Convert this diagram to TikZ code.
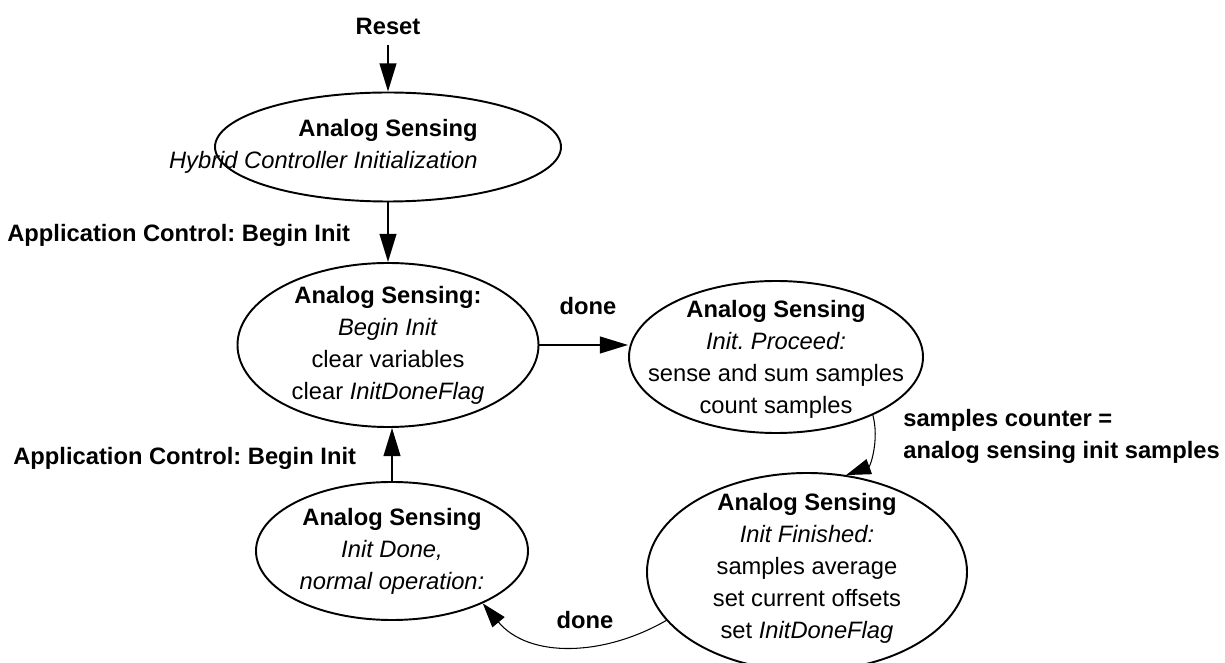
\documentclass[tikz,border=0pt]{standalone}
\usepackage{fontspec}
\setmainfont{Liberation Sans}
\usetikzlibrary{arrows.meta,shapes}
\frenchspacing
\newcommand{\dfont}{\fontsize{13.5}{18.2}\selectfont}
\tikzstyle{sstate}=[ellipse,draw=black,line width=1.1pt,inner sep=0pt]
\tikzstyle{stext}=[align=center,inner sep=0pt,font=\dfont]
\tikzstyle{tlabel}=[inner sep=0pt,font=\dfont\bfseries]
\tikzstyle{tgraph}=[-{Triangle[length=16pt,width=9.5pt]}, line width=1.1pt]
\tikzstyle{cgraph}=[-{Triangle[length=14pt,width=9pt]}, line width=0.6pt]

\begin{document}
\begin{tikzpicture}
\useasboundingbox (0,0) rectangle (24.5,-13.26);
% states
\node[sstate,minimum width=6.92cm,minimum height=2.18cm] (hci) at (7.76,-2.94) {};
\node[stext,align=right,anchor=east] (hci-t) at (9.56,-2.92) {\textbf{Analog Sensing}\\\textit{Hybrid Controller Initialization}};
\node[sstate,minimum width=6.02cm,minimum height=3.28cm] (begin) at (7.76,-6.90) {};
\node[stext] (begin-t) at (begin) {\textbf{Analog Sensing:}\\\textit{Begin Init}\\clear variables\\clear \textit{InitDoneFlag}};
\node[sstate,minimum width=5.88cm,minimum height=3.04cm] (proceed) at (15.52,-7.14) {};
\node[stext] (proceed-t) at ([yshift=-0.04cm]proceed) {\textbf{Analog Sensing}\\\textit{Init. Proceed:}\\sense and sum samples\\count samples};
\node[sstate,minimum width=6.40cm,minimum height=3.96cm] (finished) at (16.14,-11.44) {};
\node[stext] (finished-t) at ([yshift=0.08cm]finished) {\textbf{Analog Sensing}\\\textit{Init Finished:}\\samples average\\set current offsets\\set \textit{InitDoneFlag}};
\node[sstate,minimum width=5.44cm,minimum height=2.76cm] (normal) at (7.84,-11.02) {};
\node[stext] (normal-t) at (normal) {\textbf{Analog Sensing}\\\textit{Init Done,}\\\textit{normal operation:}};
% labels
\node[tlabel] (reset) at (7.76,-0.52) {Reset};
\node[tlabel,anchor=west] (appctl-a) at (0.14,-4.70) {Application Control: Begin Init};
\node[tlabel,anchor=west] (appctl-b) at (0.26,-9.16) {Application Control: Begin Init};
\node[tlabel] (done-a) at (11.76,-6.12) {done};
\node[tlabel] (done-b) at (11.70,-12.40) {done};
\node[tlabel,anchor=west,align=left] (count) at (18.06,-8.72) {samples counter =\\analog sensing init samples};
% transitions
\draw[tgraph,shorten <=0.2cm] (reset) -- (hci);
\draw[tgraph] (hci) -- (begin);
\draw[tgraph] (begin.east) -- (begin.east -| proceed.west);
\draw[tgraph] (normal.north) -- (normal.north |- begin.south);
\draw[cgraph] (proceed.-31) to[out=-75,in=20] (finished.68);
\draw[cgraph] (finished.199) to[out=210,in=-50] (normal.-30);
\end{tikzpicture}
\end{document}
